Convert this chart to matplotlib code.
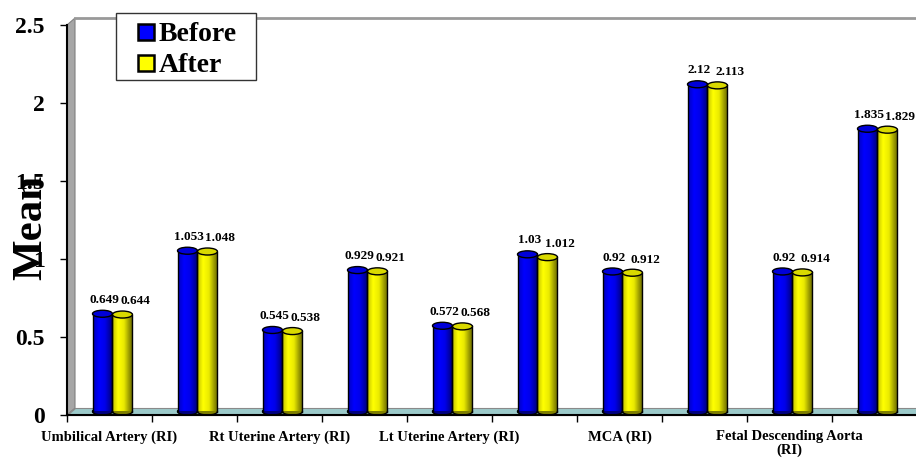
import numpy as np
import matplotlib
matplotlib.use("Agg")
from matplotlib import pyplot as plt
from matplotlib.patches import Ellipse, Polygon, Rectangle
from matplotlib.lines import Line2D
from matplotlib.colors import LinearSegmentedColormap, to_rgb

# only every other category name is printed on the original axis
labels = ["Umbilical Artery (RI)", "", "Rt Uterine Artery (RI)", "",
          "Lt Uterine Artery (RI)", "", "MCA (RI)", "",
          "Fetal Descending Aorta\n(RI)", ""]
before = [0.649, 1.053, 0.545, 0.929, 0.572, 1.03, 0.92, 2.12, 0.92, 1.835]
after = [0.644, 1.048, 0.538, 0.921, 0.568, 1.012, 0.912, 2.113, 0.914, 1.829]
yticks = [0, 0.5, 1, 1.5, 2, 2.5]
ytick_labels = ["0", "0.5", "1", "1.5", "2", "2.5"]

blue = "#0000ff"
yellow = "#ffff00"

plt.rcParams['font.family'] = ['Liberation Serif', 'DejaVu Serif']
plt.rcParams['font.weight'] = 'bold'

fig = plt.figure(figsize=(9.16, 4.58), dpi=100)
ax = fig.add_axes([67/916, 43/458, 850/916, 390/458])

n = len(before)
ymax = 2.5
dx = 8/85.0     # depth of the fake 3d walls
dy = 7/156.0
eh = 7/156.0    # height of the cylinder caps
w = 0.235

# walls and floor
ax.add_patch(Polygon([(0, 0), (dx, dy), (dx, ymax+dy), (0, ymax)], closed=True,
                     facecolor="#a6a6a6", edgecolor="#808080", lw=0.8, zorder=1, clip_on=False))
ax.add_patch(Polygon([(0, 0), (n+dx, 0), (n+dx, dy), (dx, dy)], closed=True,
                     facecolor="#9ccaca", edgecolor="#8a8a8a", lw=0.8, zorder=1, clip_on=False))
ax.plot([dx, n+dx], [ymax+dy, ymax+dy], color="#999999", lw=2, zorder=1, clip_on=False)


def cyl_cmap(c):
    r = np.array(to_rgb(c))
    return LinearSegmentedColormap.from_list("", [(0, r*0.75), (0.3, r), (0.6, r*0.92), (1, r*0.45)])


grad = np.linspace(0, 1, 64).reshape(1, -1)


def cylinder(x0, v, c):
    xc = x0 + w/2
    base = eh/2
    ax.add_patch(Ellipse((xc, base), w, eh, facecolor=np.array(to_rgb(c))*0.5,
                         edgecolor="k", lw=1, zorder=3))
    ax.imshow(grad, extent=(x0, x0+w, base, v), aspect="auto", cmap=cyl_cmap(c),
              interpolation="bilinear", zorder=3.2)
    ax.plot([x0, x0], [base, v], color="k", lw=1, zorder=3.3)
    ax.plot([x0+w, x0+w], [base, v], color="k", lw=1, zorder=3.3)
    ax.add_patch(Ellipse((xc, v), w, eh, facecolor=np.array(to_rgb(c))*0.85,
                         edgecolor="k", lw=1, zorder=3.4))


for i in range(n):
    xb = i + 0.30
    xa = xb + w
    cylinder(xb, before[i], blue)
    cylinder(xa, after[i], yellow)
    ax.text(xb + w/2 + 0.02, before[i] + 0.07, str(before[i]), ha="center", va="baseline",
            fontsize=9.5, fontweight="bold")
    ax.text(xa + w/2 + 0.15, after[i] + 0.065, str(after[i]), ha="center", va="baseline",
            fontsize=9.5, fontweight="bold")

ax.set_xlim(0, n)
ax.set_ylim(0, ymax)
ax.set_xticks(np.arange(n+1))
ax.set_xticklabels([])
ax.set_xticks(np.arange(n) + 0.5, minor=True)
ax.set_xticklabels(labels, minor=True, fontsize=10.5, fontweight="bold", linespacing=1.0)
ax.tick_params(axis="x", which="minor", length=0, pad=11)
ax.tick_params(axis="x", which="major", length=5, width=1)
ax.set_yticks(yticks)
ax.set_yticklabels(ytick_labels, fontsize=17, fontweight="bold")
ax.tick_params(axis="y", length=5, width=1, pad=11)

for s in ["top", "right"]:
    ax.spines[s].set_visible(False)
ax.spines["left"].set_linewidth(1.5)
ax.spines["bottom"].set_linewidth(1.5)
ax.spines["left"].set_zorder(5)
ax.spines["bottom"].set_zorder(5)

ax.set_ylabel("Mean", fontsize=31, fontweight="bold")
ax.yaxis.set_label_coords(-0.02, 0.48)

# legend box drawn by hand so its size matches the original
fig.patches.append(Rectangle((116/916, 1 - 80/458), 140/916, 67/458,
                             transform=fig.transFigure, facecolor="white",
                             edgecolor="#333333", lw=1, zorder=10))
handles = [Line2D([], [], ls="", marker="s", markersize=12, markerfacecolor=blue,
                  markeredgecolor="k", markeredgewidth=1.8),
           Line2D([], [], ls="", marker="s", markersize=12, markerfacecolor=yellow,
                  markeredgecolor="k", markeredgewidth=1.8)]
leg = fig.legend(handles, ["Before", "After"], loc="upper left",
                 bbox_to_anchor=(116/916, 1 - 13/458), borderaxespad=0,
                 prop={"size": 20, "weight": "bold"}, frameon=False,
                 handlelength=1.5, handletextpad=-0.28, labelspacing=0.2,
                 borderpad=0.32)
leg.set_zorder(11)

fig.savefig("out.png", dpi=100)
